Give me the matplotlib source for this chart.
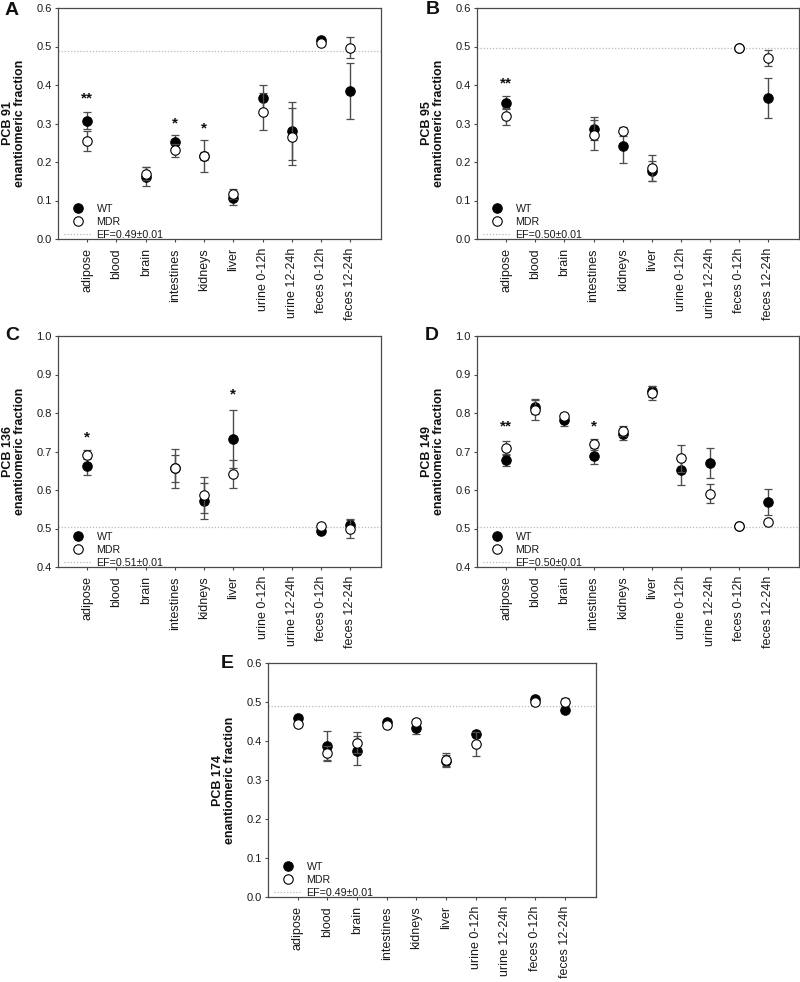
import numpy as np
import matplotlib
matplotlib.use("Agg")
import matplotlib.pyplot as plt

plt.rcParams['font.family'] = ['Liberation Sans', 'DejaVu Sans']

nan = np.nan
categories = ['adipose', 'blood', 'brain', 'intestines', 'kidneys', 'liver',
              'urine 0-12h', 'urine 12-24h', 'feces 0-12h', 'feces 12-24h']

# Panel A: PCB 91
wt_A = [0.307, nan, 0.162, 0.253, 0.216, 0.106, 0.366, 0.281, 0.517, 0.385]
wt_A_err = [0.022, nan, 0.024, 0.016, 0.041, 0.017, 0.033, 0.075, 0.005, 0.073]
mdr_A = [0.255, nan, 0.169, 0.230, 0.216, 0.116, 0.331, 0.266, 0.508, 0.497]
mdr_A_err = [0.026, nan, 0.017, 0.018, 0.010, 0.013, 0.048, 0.075, 0.004, 0.028]

# Panel B: PCB 95
wt_B = [0.354, nan, nan, 0.286, 0.242, 0.176, nan, nan, 0.497, 0.365]
wt_B_err = [0.017, nan, nan, 0.030, 0.045, 0.026, nan, nan, 0.004, 0.052]
mdr_B = [0.319, nan, nan, 0.270, 0.280, 0.185, nan, nan, 0.497, 0.470]
mdr_B_err = [0.022, nan, nan, 0.038, 0.012, 0.034, nan, nan, 0.004, 0.020]

# Panel C: PCB 136
wt_C = [0.662, nan, nan, 0.656, 0.571, 0.732, nan, nan, 0.494, 0.510]
wt_C_err = [0.023, nan, nan, 0.034, 0.047, 0.075, nan, nan, 0.004, 0.013]
mdr_C = [0.692, nan, nan, 0.656, 0.588, 0.642, nan, nan, 0.506, 0.500]
mdr_C_err = [0.011, nan, nan, 0.050, 0.047, 0.037, nan, nan, 0.004, 0.024]

# Panel D: PCB 149
wt_D = [0.677, 0.816, 0.781, 0.689, 0.746, 0.856, 0.653, 0.670, 0.506, 0.569]
wt_D_err = [0.015, 0.019, 0.016, 0.021, 0.015, 0.015, 0.039, 0.040, 0.004, 0.033]
mdr_D = [0.710, 0.809, 0.792, 0.719, 0.752, 0.853, 0.682, 0.590, 0.506, 0.517]
mdr_D_err = [0.016, 0.028, 0.008, 0.014, 0.013, 0.018, 0.035, 0.025, 0.004, 0.006]

# Panel E: PCB 174
wt_E = [0.460, 0.388, 0.375, 0.448, 0.433, 0.348, 0.417, nan, 0.507, 0.479]
wt_E_err = [0.006, 0.037, 0.037, 0.006, 0.016, 0.015, 0.008, nan, 0.004, 0.005]
mdr_E = [0.444, 0.369, 0.395, 0.441, 0.450, 0.352, 0.392, nan, 0.500, 0.500]
mdr_E_err = [0.006, 0.019, 0.027, 0.005, 0.006, 0.016, 0.031, nan, 0.004, 0.011]

panel_letters = ['A', 'B', 'C', 'D', 'E']
pcb_names = ['PCB 91', 'PCB 95', 'PCB 136', 'PCB 149', 'PCB 174']
ef_values = [0.489, 0.495, 0.505, 0.503, 0.491]
ef_labels = ['EF=0.49\u00b10.01', 'EF=0.50\u00b10.01', 'EF=0.51\u00b10.01',
             'EF=0.50\u00b10.01', 'EF=0.49\u00b10.01']
ylims = [(0.0, 0.6), (0.0, 0.6), (0.4, 1.0), (0.4, 1.0), (0.0, 0.6)]

# significance markers: (category index, text, y)
stars_A = [(0, '**', 0.365), (3, '*', 0.300), (4, '*', 0.287)]
stars_B = [(0, '**', 0.404)]
stars_C = [(0, '*', 0.736), (5, '*', 0.849)]
stars_D = [(0, '**', 0.765), (3, '*', 0.765)]
stars_E = []

panels = [
    (wt_A, wt_A_err, mdr_A, mdr_A_err, stars_A),
    (wt_B, wt_B_err, mdr_B, mdr_B_err, stars_B),
    (wt_C, wt_C_err, mdr_C, mdr_C_err, stars_C),
    (wt_D, wt_D_err, mdr_D, mdr_D_err, stars_D),
    (wt_E, wt_E_err, mdr_E, mdr_E_err, stars_E),
]

W, H = 800, 982
fig = plt.figure(figsize=(W / 100, H / 100), dpi=100)

# axes rectangles in pixels: left, top, right, bottom
rects = [
    (58, 8, 381, 239),
    (477, 8, 799, 239),
    (58, 336, 381, 567),
    (477, 336, 799, 567),
    (268, 663, 596, 897),
]
letter_pos = [(5, 15), (426, 14), (5, 340), (425, 340), (221, 668)]

x = np.arange(1, len(categories) + 1)
spine_col = '#4a4a4a'
err_col = '#4d4d4d'

for i, (l, t, r, b) in enumerate(rects):
    ax = fig.add_axes([l / W, 1 - b / H, (r - l) / W, (b - t) / H])
    wt, wte, md, mde, stars = panels[i]
    ax.axhline(ef_values[i], color='#b8b8b8', lw=0.9, ls=(0, (1, 1.5)), zorder=1)
    ax.errorbar(x, wt, yerr=wte, fmt='none', ecolor=err_col, elinewidth=1.0,
                capsize=3.2, capthick=0.9, zorder=2)
    h_wt, = ax.plot(x, wt, 'o', ms=6.8, mfc='black', mec='black', mew=0.8,
                    ls='none', zorder=3)
    ax.errorbar(x, md, yerr=mde, fmt='none', ecolor=err_col, elinewidth=1.0,
                capsize=3.2, capthick=0.9, zorder=4)
    h_md, = ax.plot(x, md, 'o', ms=6.8, mfc='white', mec='black', mew=0.8,
                    ls='none', zorder=5)
    h_ef, = ax.plot([], [], color='#b8b8b8', lw=0.9, ls=(0, (1, 1.5)))
    for ci, s, yv in stars:
        ax.text(x[ci], yv, s, ha='center', va='center', fontsize=11,
                fontweight='bold', color='#111111')
    ax.set_xlim(0, 11.05)
    ax.set_ylim(*ylims[i])
    ax.set_yticks(np.round(np.arange(ylims[i][0], ylims[i][1] + 0.001, 0.1), 1))
    ax.set_yticklabels([f'{v:.1f}' for v in ax.get_yticks()])
    ax.set_xticks(x)
    ax.set_xticklabels(categories, rotation=90)
    ax.tick_params(axis='both', direction='out', length=2.5, width=0.8,
                   color=spine_col, labelcolor='#1a1a1a')
    ax.tick_params(axis='y', labelsize=8, pad=2)
    ax.tick_params(axis='x', labelsize=9, pad=4)
    for sp in ax.spines.values():
        sp.set_color(spine_col)
        sp.set_linewidth(0.9)
    ax.text(-44 / (r - l), 0.5, pcb_names[i] + '\nenantiomeric fraction',
            transform=ax.transAxes, rotation=90, ha='center', va='center',
            multialignment='center', fontsize=9, fontweight='bold',
            linespacing=1.0, color='#111111')
    leg = ax.legend([h_wt, h_md, h_ef], ['WT', 'MDR', ef_labels[i]],
                    loc='lower left', bbox_to_anchor=(6 / (r - l), -0.005),
                    frameon=False, fontsize=7.7, handlelength=2.6,
                    handletextpad=0.45, labelspacing=0.28, borderpad=0,
                    borderaxespad=0)
    for txt in leg.get_texts():
        txt.set_color('#1a1a1a')
    lx, ly = letter_pos[i]
    fig.text(lx / W, 1 - ly / H, panel_letters[i], fontsize=14,
             fontweight='bold', ha='left', va='baseline', color='#111111')

fig.savefig('out.png', dpi=100, facecolor='white')
